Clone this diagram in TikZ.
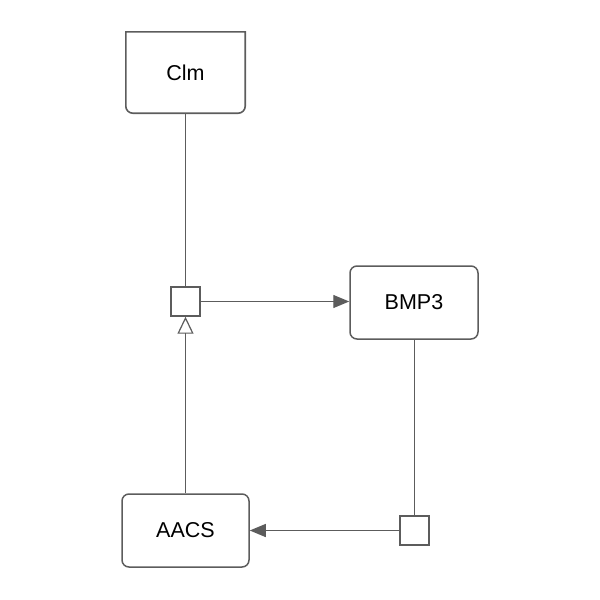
\documentclass[tikz,border=0pt]{standalone}
\usepackage{fontspec}
\setmainfont{Liberation Sans}
\usetikzlibrary{arrows.meta}
\definecolor{ln}{HTML}{5C5C5C}
\tikzset{
  box/.style={draw=ln, line width=1.5pt, rounded corners=7pt, minimum width=#1, align=center, font=\fontsize{21.5}{24}\selectfont, inner sep=0pt},
  sq/.style={draw=ln, line width=1.4pt, minimum width=29pt, minimum height=29pt, inner sep=0pt},
  conn/.style={draw=ln, line width=1.3pt},
  fill arr/.style={-{Triangle[length=16pt,width=13pt]}},
  open arr/.style={-{Triangle[open,length=17pt,width=16pt,line width=1.2pt]}}
}
\begin{document}
\begin{tikzpicture}[x=1pt,y=-1pt]
\useasboundingbox (0,0) rectangle (600,600);
\node[minimum width=119pt, minimum height=81pt, inner sep=0pt, font=\fontsize{21.5}{24}\selectfont] (clm) at (185.5,72.5) {Clm};
\draw[ln, line width=1.6pt] (clm.west) -- (clm.north west) -- (clm.north east) [rounded corners=7pt] -- (clm.south east) -- (clm.south west) -- (clm.west);
\node[box=128pt, minimum height=73pt] (bmp) at (414,302.5) {BMP3};
\node[box=127pt, minimum height=73pt] (aacs) at (185.5,530.5) {AACS};
\node[sq] (s1) at (185.5,301.5) {};
\node[sq] (s2) at (414.5,530.5) {};
\draw[conn] (clm.south) -- (s1.north);
\draw[conn, open arr] (aacs.north) -- (s1.south);
\draw[conn, fill arr] (s1.east) -- (s1.east -| bmp.west);
\draw[conn] (bmp.south -| s2.north) -- (s2.north);
\draw[conn, fill arr] (s2.west) -- (s2.west -| aacs.east);
\end{tikzpicture}
\end{document}
